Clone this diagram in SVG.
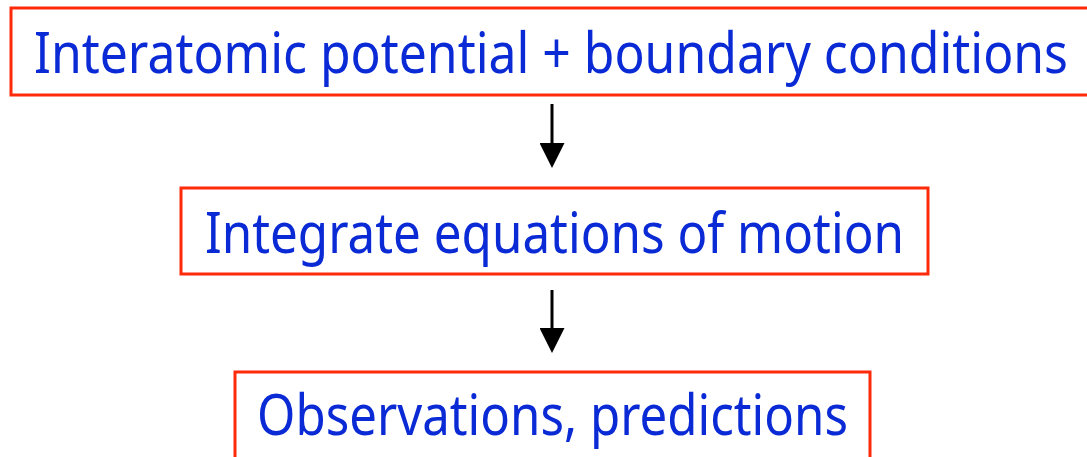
<svg xmlns="http://www.w3.org/2000/svg" width="1087" height="457" viewBox="0 0 1087 457">
<style>
.box{fill:#fff;stroke:#ff2a0a;stroke-width:3}
.lbl{font-family:"Noto Sans","DejaVu Sans",sans-serif;font-size:56px;fill:#0a2ad6}
.conn{stroke:#000;stroke-width:3;fill:none}
</style>
<defs>
<marker id="ah" markerWidth="26" markerHeight="25" refX="0" refY="12.5" orient="auto" markerUnits="userSpaceOnUse">
<path d="M0,0 L25,12.5 L0,25 Z" fill="#000"/>
</marker>
</defs>
<rect width="1087" height="457" fill="#fff"/>
<g id="node1">
<rect class="box" x="11" y="8" width="1090" height="87"/>
<text class="lbl" x="34" y="73" textLength="1034" lengthAdjust="spacingAndGlyphs">Interatomic potential + boundary conditions</text>
</g>
<g id="node2">
<rect class="box" x="181" y="188" width="747" height="86"/>
<text class="lbl" x="205" y="253" textLength="699" lengthAdjust="spacingAndGlyphs">Integrate equations of motion</text>
</g>
<g id="node3">
<rect class="box" x="235" y="372" width="635" height="100"/>
<text class="lbl" x="257" y="435" textLength="591" lengthAdjust="spacingAndGlyphs">Observations, predictions</text>
</g>
<g id="connectors">
<line class="conn" x1="552" y1="104" x2="552" y2="143" marker-end="url(#ah)"/>
<line class="conn" x1="552" y1="290" x2="552" y2="328" marker-end="url(#ah)"/>
</g>
</svg>
